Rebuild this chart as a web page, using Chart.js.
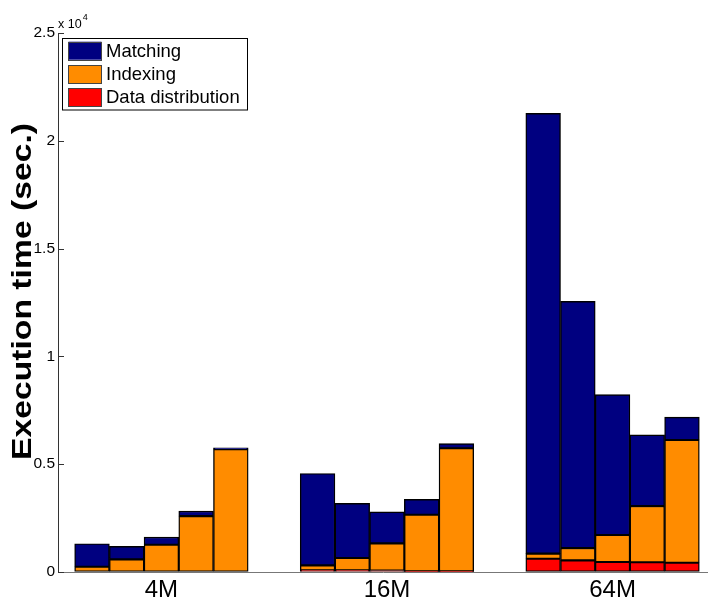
<!DOCTYPE html>
<html><head><meta charset="utf-8">
<script src="https://cdn.jsdelivr.net/npm/chart.js@4/dist/chart.umd.min.js"></script>
<style>html,body{margin:0;padding:0;background:#fff}#wrap{width:708px;height:600px;position:relative}canvas{display:block}</style>
</head><body><div id="wrap"><canvas id="c" width="708" height="600"></canvas></div>
<script>
// ---- data ----
const groups = ['4M', '16M', '64M'];
const seriesNames = ['Matching', 'Indexing', 'Data distribution'];
const matching     = [1065, 602, 355, 235, 60,   4260, 2530, 1460, 710, 215,   20420, 11440, 6510, 3305, 1055];
const indexing     = [245, 588, 1265, 2590, 5695, 230, 570, 1260, 2625, 5710,  235, 570, 1250, 2605, 5695];
const distribution = [0, 0, 0, 0, 0,             80, 80, 70, 30, 30,          615, 540, 465, 450, 430];
const yTicks = [0, 5000, 10000, 15000, 20000, 25000];
const yTickLabels = ['0', '0.5', '1', '1.5', '2', '2.5'];
const yTitle = 'Execution time (sec.)';
const yExponent = '4';

// ---- layout helpers ----
const BARS = 5, GAP = 6.5;
const xOf = k => Math.floor(k / BARS) * GAP + (k % BARS) - 2;
const toPts = arr => arr.map((v, k) => ({ x: xOf(k), y: v }));
const FONT = "'Liberation Sans', Arial, sans-serif";
const colors = { 'Matching': '#000080', 'Indexing': '#ff8c00', 'Data distribution': '#ff0000' };

const common = { borderColor: '#000', borderWidth: 1.4, borderSkipped: false, barPercentage: 1, categoryPercentage: 1 };

const extras = {
  id: 'extras',
  afterDraw(chart) {
    const ctx = chart.ctx, ca = chart.chartArea, ys = chart.scales.y;
    ctx.save();
    // inward y tick marks
    ctx.strokeStyle = '#333'; ctx.lineWidth = 1;
    yTicks.forEach(v => {
      const y = Math.round(ys.getPixelForValue(v)) + 0.5;
      ctx.beginPath(); ctx.moveTo(ca.left, y); ctx.lineTo(ca.left + 6, y); ctx.stroke();
    });
    // exponent label
    ctx.fillStyle = '#000'; ctx.textBaseline = 'alphabetic'; ctx.textAlign = 'left';
    ctx.font = '12.5px ' + FONT;
    ctx.fillText('x 10', 58, 28);
    const w = ctx.measureText('x 10').width;
    ctx.font = '9px ' + FONT;
    ctx.fillText(yExponent, 58 + w + 1, 20);
    // y title (rotated)
    ctx.save();
    ctx.font = 'bold 28px ' + FONT;
    const tw = ctx.measureText(yTitle).width;
    ctx.translate(31, 460);
    ctx.rotate(-Math.PI / 2);
    ctx.scale(337 / tw, 1);
    ctx.fillText(yTitle, 0, 0);
    ctx.restore();
    // legend box
    ctx.fillStyle = '#fff'; ctx.strokeStyle = '#000'; ctx.lineWidth = 1;
    ctx.fillRect(62.5, 38.5, 185, 71.5);
    ctx.strokeRect(62.5, 38.5, 185, 71.5);
    const ds = chart.data.datasets.slice().reverse();
    ds.forEach((d, i) => {
      const top = 41.7 + i * 23.3;
      ctx.fillStyle = d.backgroundColor;
      ctx.fillRect(68.5, top, 33, 18);
      ctx.strokeStyle = '#444';
      ctx.strokeRect(68.5, Math.round(top) + 0.5, 33, 18);
      ctx.fillStyle = '#000';
      ctx.font = '18.5px ' + FONT;
      ctx.fillText(d.label, 106, 56.7 + i * 23.3);
    });
    ctx.restore();
  }
};

new Chart(document.getElementById('c'), {
  type: 'bar',
  data: {
    datasets: [
      Object.assign({ label: seriesNames[2], data: toPts(distribution), backgroundColor: colors['Data distribution'] }, common),
      Object.assign({ label: seriesNames[1], data: toPts(indexing), backgroundColor: colors['Indexing'] }, common),
      Object.assign({ label: seriesNames[0], data: toPts(matching), backgroundColor: colors['Matching'] }, common)
    ]
  },
  options: {
    responsive: false, animation: false, devicePixelRatio: 1,
    layout: { padding: { top: 33, right: 0, left: 0, bottom: 0 } },
    plugins: { legend: { display: false }, tooltip: { enabled: false } },
    scales: {
      x: {
        type: 'linear', stacked: true, min: -2.98, max: 15.75, offset: false,
        afterBuildTicks: s => { s.ticks = groups.map((g, i) => ({ value: i * GAP })); },
        ticks: { callback: (v, i) => groups[i], font: { family: FONT, size: 24, lineHeight: 1.2 }, color: '#000', padding: 4, maxRotation: 0, autoSkip: false },
        grid: { display: true, drawOnChartArea: false, drawTicks: false, offset: false },
        border: { display: true, color: '#777', width: 1 },
        afterFit: s => { s.height = 28; }
      },
      y: {
        stacked: true, min: 0, max: 25000,
        afterBuildTicks: s => { s.ticks = yTicks.map(v => ({ value: v })); },
        ticks: { callback: (v, i) => yTickLabels[i], font: { family: FONT, size: 15.5 }, color: '#000', padding: 3 },
        grid: { display: true, drawOnChartArea: false, drawTicks: false },
        border: { display: true, color: '#333', width: 1 },
        afterFit: s => { s.width = 58; }
      }
    }
  },
  plugins: [extras]
});
</script></body></html>
